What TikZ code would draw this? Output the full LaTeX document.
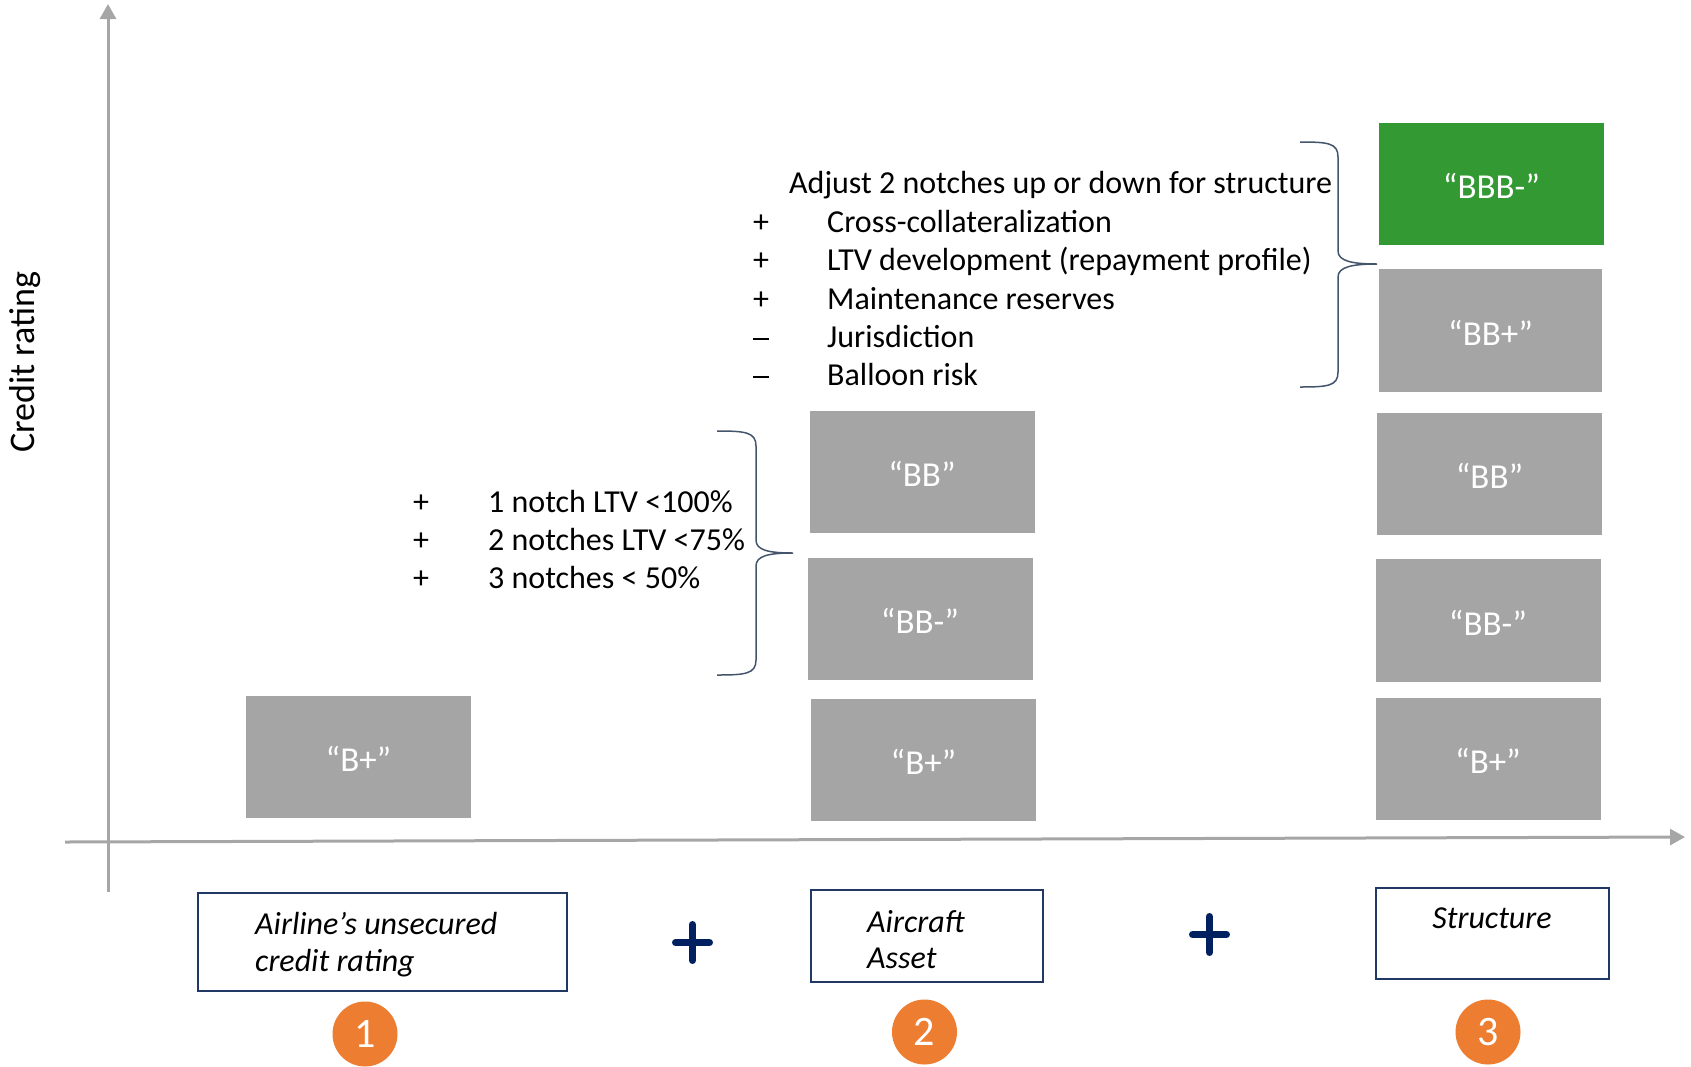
\documentclass[tikz,border=0pt]{standalone}
\usepackage{fontspec}
\setmainfont{Carlito}
\usetikzlibrary{arrows.meta}
\definecolor{boxgray}{HTML}{A5A5A5}
\definecolor{boxgreen}{HTML}{339933}
\definecolor{navy}{HTML}{1F3864}
\definecolor{plusnavy}{HTML}{002060}
\definecolor{axisgray}{HTML}{A6A6A6}
\definecolor{bracecol}{HTML}{44546A}
\definecolor{circorange}{HTML}{ED7D31}
\newcommand{\mydash}{\rule[7pt]{16pt}{1.8pt}}
\begin{document}
\begin{tikzpicture}[x=1pt,y=-1pt,
 rating/.style={fill=boxgray, text=white, inner sep=0pt, minimum width=225pt, minimum height=122pt, text height=29pt, text depth=0pt, font=\fontsize{35}{42}\selectfont},
 labelbox/.style={draw=navy, line width=2pt, inner sep=0pt},
 ltext/.style={anchor=base west, inner sep=0pt, font=\fontsize{32}{38}\selectfont\itshape},
 mtext/.style={anchor=base west, inner sep=0pt, font=\fontsize{32}{38}\selectfont},
 sym/.style={anchor=base, inner sep=0pt, font=\fontsize{32}{38}\selectfont},
 numcirc/.style={circle, fill=circorange, text=white, minimum size=65pt, inner sep=0pt, font=\fontsize{42}{50}\selectfont},
 axisline/.style={draw=axisgray, line width=3pt, -{Triangle[length=15pt,width=16pt]}},
 bracepath/.style={draw=bracecol, line width=1.5pt},
 plusmark/.style={draw=plusnavy, line width=7pt, line cap=round}]

\useasboundingbox (0,0) rectangle (1691,1066);

% axes
\coordinate (yb) at (108,892);
\coordinate (yt) at (108,4);
\coordinate (xl) at (65,842);
\coordinate (xr) at (1685,837);
\draw[axisline] (yb) -- (yt);
\draw[axisline] (xl) -- (xr);
\node[rotate=90, anchor=base, inner sep=0pt, font=\fontsize{36}{42}\selectfont] (ylab) at (34,362) {Credit rating};

% column 1
\node[rating] (c1bp) at (358.5,757) {“B+”};

% column 2
\node[rating] (c2bb) at (922,472) {“BB”};
\node[rating] (c2bbm) at (920,619) {“BB-”};
\node[rating] (c2bp) at (923.5,759.5) {“B+”};

% column 3
\node[rating, fill=boxgreen] (c3bbb) at (1491.5,184) {“BBB-”};
\node[rating, minimum width=223pt, minimum height=123pt] (c3bbp) at (1490.5,330.5) {“BB+”};
\node[rating] (c3bb) at (1489.5,474) {“BB”};
\node[rating, minimum height=123pt] (c3bbm) at (1488,620.5) {“BB-”};
\node[rating] (c3bp) at (1488,759) {“B+”};

% brace 1
\draw[bracepath] (717,431) .. controls (745,431) and (756,432) .. (756,446)
  -- (756,540) .. controls (756,550) and (768,553) .. (793,553)
  .. controls (768,553) and (756,556) .. (756,566)
  -- (756,660) .. controls (756,674) and (745,675) .. (717,675);
\node[sym] (p1a) at (421,512) {+};
\node[sym] (p1b) at (421,550) {+};
\node[sym] (p1c) at (421,588) {+};
\node[mtext] (t1a) at (488,512) {1 notch LTV <100\%};
\node[mtext] (t1b) at (488,550) {2 notches LTV <75\%};
\node[mtext] (t1c) at (488,588) {3 notches < 50\%};

% brace 2
\draw[bracepath] (1300,142) .. controls (1328,142) and (1338,143) .. (1338,157)
  -- (1338,251) .. controls (1338,261) and (1352,264) .. (1377,264)
  .. controls (1352,264) and (1338,267) .. (1338,277)
  -- (1338,372) .. controls (1338,386) and (1328,387) .. (1300,387);
\node[mtext] (t2h) at (789,193) {Adjust 2 notches up or down for structure};
\node[sym] (p2a) at (761,232) {+};
\node[sym] (p2b) at (761,270) {+};
\node[sym] (p2c) at (761,309) {+};
\node[sym] (m2d) at (761,347) {\mydash};
\node[sym] (m2e) at (761,385) {\mydash};
\node[mtext] (t2a) at (827,232) {Cross-collateralization};
\node[mtext] (t2b) at (827,270) {LTV development (repayment profile)};
\node[mtext] (t2c) at (827,309) {Maintenance reserves};
\node[mtext] (t2d) at (827,347) {Jurisdiction};
\node[mtext] (t2e) at (827,385) {Balloon risk};

% label boxes
\node[labelbox, minimum width=369pt, minimum height=98pt] (lb1) at (382.5,942) {};
\node[ltext] (lb1a) at (255,934) {Airline’s unsecured};
\node[ltext] (lb1b) at (255,971) {credit rating};
\node[labelbox, minimum width=232pt, minimum height=92pt] (lb2) at (927,936) {};
\node[ltext] (lb2a) at (867,932) {Aircraft};
\node[ltext] (lb2b) at (867,968) {Asset};
\node[labelbox, minimum width=233pt, minimum height=91pt] (lb3) at (1492.5,933.5) {};
\node[ltext, anchor=base] (lb3a) at (1492,928) {Structure};

% plus signs
\coordinate (pl1) at (692.5,942.5);
\coordinate (pl2) at (1209.5,934.5);
\draw[plusmark] ([xshift=-17pt]pl1) -- ([xshift=17pt]pl1);
\draw[plusmark] ([yshift=-18pt]pl1) -- ([yshift=18pt]pl1);
\draw[plusmark] ([xshift=-17pt]pl2) -- ([xshift=17pt]pl2);
\draw[plusmark] ([yshift=-18pt]pl2) -- ([yshift=18pt]pl2);

% numbered circles
\node[numcirc] (n1) at (365,1034) {1};
\node[numcirc] (n2) at (924.5,1032) {2};
\node[numcirc] (n3) at (1488,1032) {3};
\end{tikzpicture}
\end{document}
